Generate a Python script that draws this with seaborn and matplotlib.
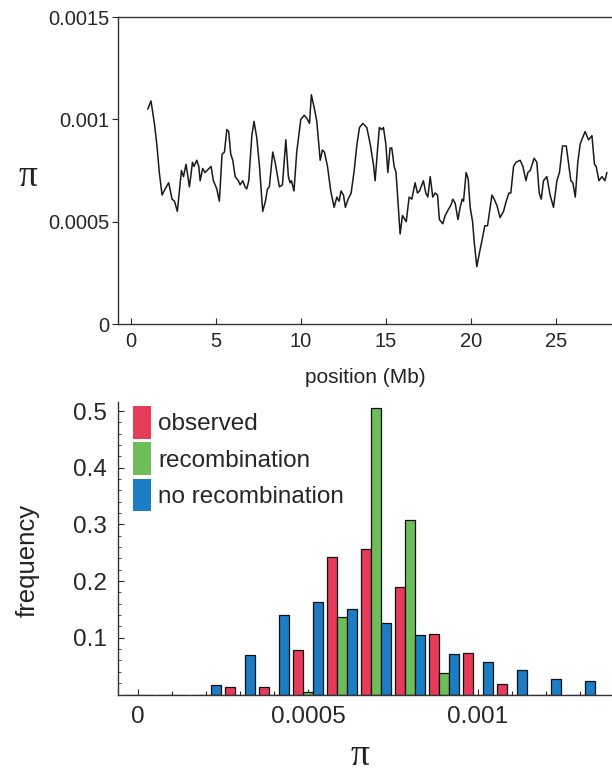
import numpy as np
import pandas as pd
import matplotlib
matplotlib.use("Agg")
import matplotlib.pyplot as plt
from matplotlib.patches import Patch
from matplotlib.ticker import MultipleLocator, FixedLocator
import seaborn as sns

# ---------------- data ----------------
position_mb = [1.00, 1.19, 1.39, 1.53, 1.68, 1.84, 2.02, 2.23, 2.43, 2.57, 2.74, 2.98, 3.10, 3.25, 3.45,
               3.63, 3.72, 3.88, 4.00, 4.08, 4.23, 4.37, 4.72, 4.86, 5.06, 5.21, 5.37, 5.51, 5.65, 5.76,
               5.88, 6.00, 6.14, 6.33, 6.43, 6.59, 6.72, 6.82, 6.94, 7.12, 7.25, 7.41, 7.57, 7.76, 7.92,
               8.04, 8.15, 8.35, 8.49, 8.74, 8.92, 9.12, 9.27, 9.37, 9.45, 9.60, 9.76, 10.00, 10.21, 10.39,
               10.51, 10.62, 10.78, 10.94, 11.14, 11.27, 11.39, 11.57, 11.76, 11.96, 12.12, 12.25, 12.37,
               12.51, 12.62, 12.78, 12.96, 13.14, 13.29, 13.45, 13.65, 13.88, 14.08, 14.27, 14.37, 14.51,
               14.62, 14.76, 14.86, 15.00, 15.12, 15.25, 15.35, 15.49, 15.60, 15.84, 15.98, 16.20, 16.37,
               16.53, 16.72, 16.86, 16.98, 17.21, 17.35, 17.47, 17.61, 17.76, 17.90, 18.04, 18.15, 18.35,
               18.49, 18.68, 18.82, 18.94, 19.08, 19.24, 19.37, 19.49, 19.57, 19.72, 19.84, 19.96, 20.10,
               20.21, 20.35, 20.51, 20.66, 20.82, 20.98, 21.10, 21.24, 21.37, 21.53, 21.72, 21.92, 22.08,
               22.24, 22.35, 22.51, 22.65, 22.90, 23.06, 23.24, 23.35, 23.49, 23.72, 23.88, 24.02, 24.14,
               24.27, 24.47, 24.66, 24.86, 25.06, 25.21, 25.39, 25.61, 25.74, 25.88, 26.00, 26.14, 26.29,
               26.43, 26.57, 26.72, 26.92, 27.12, 27.27, 27.37, 27.53, 27.71, 27.80, 27.88, 28.00]
pi_values = [0.00105, 0.00109, 0.00098, 0.00088, 0.00074, 0.00063, 0.00066, 0.00069, 0.00061, 0.00060,
             0.00055, 0.00075, 0.00072, 0.00078, 0.00067, 0.00079, 0.00077, 0.00080, 0.00077, 0.00070,
             0.00076, 0.00074, 0.00077, 0.00070, 0.00066, 0.00060, 0.00083, 0.00084, 0.00095, 0.00094,
             0.00083, 0.00080, 0.00072, 0.00070, 0.00068, 0.00070, 0.00067, 0.00066, 0.00070, 0.00092,
             0.00099, 0.00091, 0.00077, 0.00055, 0.00060, 0.00066, 0.00067, 0.00084, 0.00079, 0.00067,
             0.00068, 0.00090, 0.00072, 0.00069, 0.00070, 0.00065, 0.00084, 0.00100, 0.00102, 0.00100,
             0.00098, 0.00112, 0.00106, 0.00099, 0.00080, 0.00085, 0.00084, 0.00077, 0.00065, 0.00057,
             0.00062, 0.00060, 0.00065, 0.00063, 0.00057, 0.00061, 0.00064, 0.00075, 0.00087, 0.00096,
             0.00098, 0.00096, 0.00088, 0.00078, 0.00070, 0.00085, 0.00096, 0.00095, 0.00096, 0.00088,
             0.00074, 0.00086, 0.00086, 0.00077, 0.00074, 0.00044, 0.00053, 0.00050, 0.00062, 0.00061,
             0.00069, 0.00064, 0.00065, 0.00070, 0.00064, 0.00062, 0.00072, 0.00062, 0.00064, 0.00063,
             0.00051, 0.00049, 0.00053, 0.00056, 0.00058, 0.00061, 0.00059, 0.00051, 0.00057, 0.00061,
             0.00060, 0.00074, 0.00071, 0.00057, 0.00050, 0.00039, 0.00028, 0.00035, 0.00041, 0.00048,
             0.00048, 0.00055, 0.00063, 0.00061, 0.00058, 0.00052, 0.00055, 0.00060, 0.00064, 0.00064,
             0.00077, 0.00079, 0.00080, 0.00077, 0.00070, 0.00074, 0.00075, 0.00081, 0.00079, 0.00064,
             0.00061, 0.00070, 0.00072, 0.00063, 0.00057, 0.00070, 0.00074, 0.00087, 0.00087, 0.00079,
             0.00070, 0.00069, 0.00062, 0.00079, 0.00088, 0.00091, 0.00094, 0.00090, 0.00092, 0.00078,
             0.00077, 0.00070, 0.00072, 0.00071, 0.00070, 0.00074]

pi_bins = [0.0, 0.0001, 0.0002, 0.0003, 0.0004, 0.0005, 0.0006, 0.0007, 0.0008, 0.0009,
           0.0010, 0.0011, 0.0012, 0.0013]
freq_observed = [0, 0, 0, 0.013, 0.013, 0.078, 0.243, 0.257, 0.189, 0.106, 0.074, 0.018, 0, 0]
freq_recombination = [0, 0, 0, 0, 0, 0.005, 0.136, 0.505, 0.308, 0.038, 0, 0, 0, 0]
freq_no_recombination = [0, 0, 0.0165, 0.070, 0.140, 0.164, 0.151, 0.127, 0.105, 0.071, 0.057, 0.0425,
                         0.028, 0.023]
series_names = ["observed", "recombination", "no recombination"]
series_colors = ["#e63c5a", "#6dbd5a", "#1c7cc4"]

top_xticks = [0, 5, 10, 15, 20, 25]
top_yticks = [0, 0.0005, 0.001, 0.0015]
top_yticklabels = ["0", "0.0005", "0.001", "0.0015"]
bot_xticks = [0, 0.0005, 0.001]
bot_xticklabels = ["0", "0.0005", "0.001"]
bot_yticks = [0.1, 0.2, 0.3, 0.4, 0.5]

# ---------------- style ----------------
sns.set_style("ticks")
plt.rcParams["font.family"] = ["Liberation Sans", "DejaVu Sans"]
plt.rcParams["axes.edgecolor"] = "#333333"
plt.rcParams["axes.linewidth"] = 1.0

fig = plt.figure(figsize=(6.12, 7.74), dpi=100)
W, H = 612, 774

def add_ax(left, top, right, bottom):
    return fig.add_axes([left / W, 1 - bottom / H, (right - left) / W, (bottom - top) / H])

# ---------------- top line chart ----------------
ax1 = add_ax(118, 17, 612, 324)
sns.lineplot(x=position_mb, y=pi_values, ax=ax1, color="#1a1a1a", linewidth=1.1)
ax1.set_xlim(-0.75, 28.3)
ax1.set_ylim(0, 0.0015)
ax1.set_xticks(top_xticks)
ax1.set_xticklabels([str(t) for t in top_xticks])
ax1.set_yticks(top_yticks)
ax1.set_yticklabels(top_yticklabels)
ax1.tick_params(axis="x", direction="in", length=4, width=0.8, labelsize=14.5, pad=6)
ax1.tick_params(axis="y", direction="out", length=4, width=0.8, labelsize=14.5, pad=2)
ax1.spines["right"].set_visible(False)
ax1.set_xlabel("position (Mb)", fontsize=15, color="#222222")
ax1.xaxis.set_label_coords(0.5, -0.143)
ax1.set_ylabel("π", fontsize=27, rotation=0, family=["Liberation Serif", "DejaVu Serif"], color="#222222")
ax1.yaxis.set_label_coords(-0.182, 0.479)
ax1.yaxis.label.set_verticalalignment("center")

# ---------------- bottom histogram ----------------
rows = []
for name, vals in zip(series_names, [freq_observed, freq_recombination, freq_no_recombination]):
    for p, v in zip(pi_bins, vals):
        rows.append({"pi": p, "frequency": v, "series": name})
df = pd.DataFrame(rows)

ax2 = add_ax(118, 402, 612, 694.5)
sns.barplot(data=df, x="pi", y="frequency", hue="series", hue_order=series_names,
            palette=series_colors, native_scale=True, width=0.86, dodge=True,
            saturation=1, edgecolor="#111111", linewidth=0.9, errorbar=None,
            legend=False, ax=ax2)
ax2.set_xlim(-0.0000588, 0.001394)
ax2.set_ylim(0, 0.516)
ax2.set_xticks(bot_xticks)
ax2.set_xticklabels(bot_xticklabels)
ax2.xaxis.set_minor_locator(FixedLocator(pi_bins))
ax2.set_yticks(bot_yticks)
ax2.set_yticklabels([f"{t:.1f}" for t in bot_yticks])
ax2.yaxis.set_minor_locator(MultipleLocator(0.02))
ax2.tick_params(axis="x", which="major", direction="in", length=4, width=0.8, labelsize=17.5, pad=8)
ax2.tick_params(axis="x", which="minor", direction="in", length=3, width=0.8)
ax2.tick_params(axis="y", which="major", direction="in", length=4, width=0.8, labelsize=17.5, pad=8)
ax2.tick_params(axis="y", which="minor", direction="in", length=2, width=0.6)
ax2.spines["right"].set_visible(False)
ax2.spines["top"].set_visible(False)
ax2.set_xlabel("π", fontsize=27, family=["Liberation Serif", "DejaVu Serif"], color="#222222")
ax2.xaxis.set_label_coords(0.49, -0.241)
ax2.xaxis.label.set_verticalalignment("baseline")
ax2.set_ylabel("frequency", fontsize=18.5, color="#222222")
ax2.yaxis.set_label_coords(-0.182, 0.46)
ax2.yaxis.label.set_verticalalignment("center")

handles = [Patch(facecolor=c, edgecolor="none", label=n) for c, n in zip(series_colors, series_names)]
ax2.legend(handles=handles, loc="upper left", bbox_to_anchor=(0.03, 0.986), frameon=False,
           fontsize=17.5, handlelength=0.75, handleheight=1.7, handletextpad=0.3,
           labelspacing=0.14, borderaxespad=0.0, borderpad=0.0)

fig.savefig("out.png", dpi=100)
